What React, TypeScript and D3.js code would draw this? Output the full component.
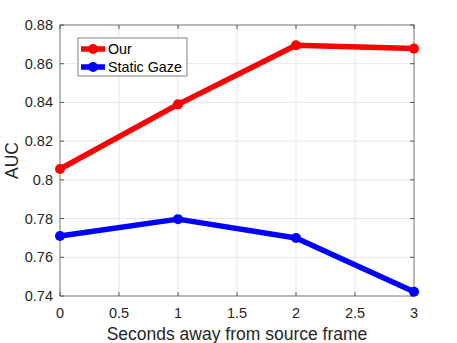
import React from "react";
import * as d3 from "d3";

const xs = [0, 1, 2, 3];
const ourValues = [0.8056, 0.839, 0.8695, 0.8678];
const staticValues = [0.771, 0.7797, 0.770, 0.7422];
const xTicks = [0, 0.5, 1, 1.5, 2, 2.5, 3];
const yTicks = [0.74, 0.76, 0.78, 0.8, 0.82, 0.84, 0.86, 0.88];
const seriesNames = ["Our", "Static Gaze"];
const seriesColors = ["#ff0000", "#0000ff"];

const W = 457, H = 343;
const m = { left: 60, right: 43, top: 25, bottom: 47 };

export default function App() {
  const x = d3.scaleLinear().domain([0, 3]).range([m.left, W - m.right]);
  const y = d3.scaleLinear().domain([0.74, 0.88]).range([H - m.bottom, m.top]);
  const line = d3.line<number>().x((_, i) => x(xs[i])).y((d) => y(d));
  const series = [ourValues, staticValues];
  const font = "Liberation Sans, Arial, Helvetica, sans-serif";
  const tc = "#262626";
  const x0 = x(0), x1 = x(3), y0 = y(0.74), y1 = y(0.88);
  return (
    <svg width={W} height={H} style={{ position: "absolute", left: 0, top: 0 }} fontFamily={font}>
      <rect x={0} y={0} width={W} height={H} fill="#fff" />
      {xTicks.map((t) => (
        <line key={"gx" + t} x1={x(t)} x2={x(t)} y1={y0} y2={y1} stroke="#e6e6e6" strokeWidth={1} />
      ))}
      {yTicks.map((t) => (
        <line key={"gy" + t} x1={x0} x2={x1} y1={y(t)} y2={y(t)} stroke="#e6e6e6" strokeWidth={1} />
      ))}
      <rect x={x0} y={y1} width={x1 - x0} height={y0 - y1} fill="none" stroke="#808080" strokeWidth={1} />
      {xTicks.map((t) => (
        <g key={"tx" + t}>
          <line x1={x(t)} x2={x(t)} y1={y0} y2={y0 - 4} stroke="#555" />
          <line x1={x(t)} x2={x(t)} y1={y1} y2={y1 + 4} stroke="#555" />
          <text x={x(t)} y={y0 + 22} textAnchor="middle" fontSize={14.5} fill={tc}>{String(t)}</text>
        </g>
      ))}
      {yTicks.map((t) => (
        <g key={"ty" + t}>
          <line x1={x0} x2={x0 + 4} y1={y(t)} y2={y(t)} stroke="#555" />
          <line x1={x1} x2={x1 - 4} y1={y(t)} y2={y(t)} stroke="#555" />
          <text x={x0 - 7} y={y(t) + 5} textAnchor="end" fontSize={14.5} fill={tc}>{String(t)}</text>
        </g>
      ))}
      <text x={(x0 + x1) / 2} y={340} textAnchor="middle" fontSize={17.5} fill={tc}>Seconds away from source frame</text>
      <text transform={`translate(18,${(y0 + y1) / 2}) rotate(-90)`} textAnchor="middle" fontSize={17.5} fill={tc}>AUC</text>
      {series.map((s, si) => (
        <g key={"s" + si}>
          <path d={line(s) || ""} fill="none" stroke={seriesColors[si]} strokeWidth={5.5} strokeLinejoin="round" />
          {s.map((v, i) => (
            <circle key={i} cx={x(xs[i])} cy={y(v)} r={5} fill={seriesColors[si]} />
          ))}
        </g>
      ))}
      <g>
        <rect x={78} y={38} width={109} height={38} fill="#fff" stroke="#808080" strokeWidth={1} />
        {seriesNames.map((n, i) => (
          <g key={n}>
            <line x1={81} x2={105} y1={49 + i * 18} y2={49 + i * 18} stroke={seriesColors[i]} strokeWidth={5.5} />
            <circle cx={93} cy={49 + i * 18} r={5} fill={seriesColors[i]} />
            <text x={108} y={54 + i * 18} fontSize={14.3} fill="#000">{n}</text>
          </g>
        ))}
      </g>
    </svg>
  );
}
